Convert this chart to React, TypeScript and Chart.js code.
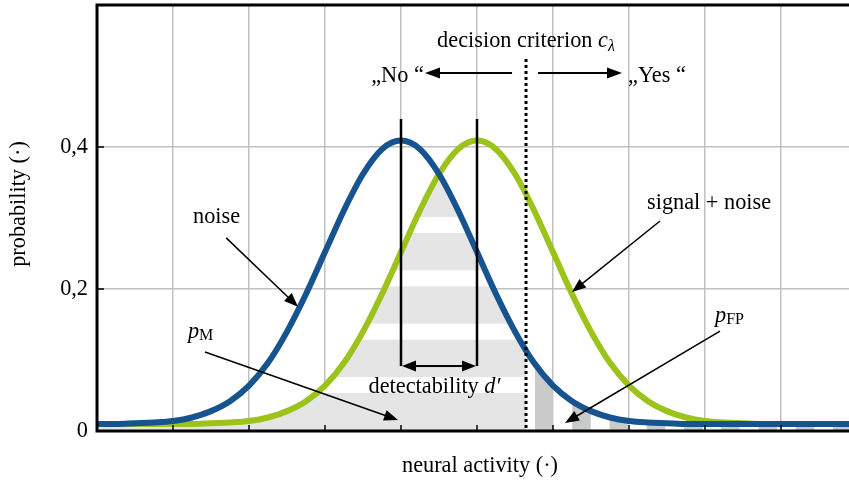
import React, { useEffect, useRef } from 'react';
import { Chart, registerables } from 'chart.js';

Chart.register(...registerables);

// ---------- data ----------
const activity = [
  0, 0.25, 0.5, 0.75, 1, 1.25, 1.5, 1.75, 2, 2.25, 2.5, 2.75, 3, 3.25, 3.5, 3.75,
  4, 4.25, 4.5, 4.75, 5, 5.25, 5.5, 5.75, 6, 6.25, 6.5, 6.75, 7, 7.25, 7.5, 7.75,
  8, 8.25, 8.5, 8.75, 9, 9.25, 9.5, 9.75, 10,
];
const noise = [
  0.010, 0.010, 0.011, 0.012, 0.014, 0.019, 0.028, 0.042, 0.064, 0.096, 0.140, 0.193,
  0.252, 0.311, 0.362, 0.397, 0.409, 0.397, 0.362, 0.311, 0.252, 0.193, 0.140, 0.096,
  0.064, 0.042, 0.028, 0.019, 0.014, 0.012, 0.011, 0.010, 0.010, 0.010, 0.010, 0.010,
  0.010, 0.010, 0.010, 0.010, 0.010,
];
const signal = [
  0.010, 0.010, 0.010, 0.010, 0.010, 0.010, 0.011, 0.012, 0.014, 0.019, 0.028, 0.042,
  0.064, 0.096, 0.140, 0.193, 0.252, 0.311, 0.362, 0.397, 0.409, 0.397, 0.362, 0.311,
  0.252, 0.193, 0.140, 0.096, 0.064, 0.042, 0.028, 0.019, 0.014, 0.012, 0.011, 0.010,
  0.010, 0.010, 0.010, 0.010, 0.010,
];
// overlap area left of the criterion (p_M, horizontal stripes)
const missX = [
  0, 0.25, 0.5, 0.75, 1, 1.25, 1.5, 1.75, 2, 2.25, 2.5, 2.75, 3, 3.25, 3.5, 3.75, 4, 4.25,
  4.4, 4.5, 4.6, 4.75, 5, 5.25, 5.5, 5.645,
];
const missY = [
  0.010, 0.010, 0.010, 0.010, 0.010, 0.010, 0.011, 0.012, 0.014, 0.019, 0.028, 0.042,
  0.064, 0.096, 0.140, 0.193, 0.252, 0.311, 0.343, 0.362, 0.343, 0.311, 0.252, 0.193,
  0.140, 0.114,
];
// noise area right of the criterion (p_FP, vertical stripes)
const falseAlarmX = [
  5.645, 5.75, 6, 6.25, 6.5, 6.75, 7, 7.25, 7.5, 7.75, 8, 8.25, 8.5, 8.75, 9, 9.25, 9.5, 9.75, 10,
];
const falseAlarmY = [
  0.114, 0.096, 0.064, 0.042, 0.028, 0.019, 0.014, 0.012, 0.011, 0.010, 0.010, 0.010,
  0.010, 0.010, 0.010, 0.010, 0.010, 0.010, 0.010,
];
const xTickValues = [0, 1, 2, 3, 4, 5, 6, 7, 8, 9, 10];
const yTickValues = [0, 0.2, 0.4, 0.6];
const yTickLabels = ['0', '0,2', '0,4', ''];
const criterion = 5.645;
const means = [4, 5];

// ---------- style ----------
const BLUE = '#17548f';
const GREEN = '#9bc31a';
const GRID = '#c0c0c0';
const SERIF = "'Liberation Serif', 'DejaVu Serif', serif";
const FS = 22.3;
const F = (size: number, style = '') => `${style} ${size}px ${SERIF}`.trim();

function makeHorizontalStripes(): CanvasPattern | string {
  const c = document.createElement('canvas');
  c.width = 4;
  c.height = 160;
  const g = c.getContext('2d');
  if (!g) return '#e6e6e6';
  g.fillStyle = '#e5e5e5';
  g.fillRect(0, 0, 4, 160);
  g.fillStyle = '#ffffff';
  const period = 160 / 3;
  for (let k = 0; k < 3; k++) {
    g.fillRect(0, 3.67 + period * k, 4, 16);
  }
  const p = g.createPattern(c, 'repeat');
  return p || '#e6e6e6';
}

function makeVerticalStripes(): CanvasPattern | string {
  const c = document.createElement('canvas');
  c.width = 149;
  c.height = 4;
  const g = c.getContext('2d');
  if (!g) return '#c8c8c8';
  g.fillStyle = '#ffffff';
  g.fillRect(0, 0, 149, 4);
  g.fillStyle = '#c9caca';
  const period = 149 / 4;
  for (let k = 0; k < 4; k++) {
    g.fillRect(13.5 + period * k, 0, 18.5, 4);
  }
  const p = g.createPattern(c, 'repeat');
  return p || '#c8c8c8';
}

type Run = { t: string; font: string; dy?: number };

function drawRuns(ctx: CanvasRenderingContext2D, parts: Run[], x: number, y: number, align: 'left' | 'center' | 'right') {
  const widths: number[] = [];
  let total = 0;
  parts.forEach((p) => {
    ctx.font = p.font;
    const w = ctx.measureText(p.t).width;
    widths.push(w);
    total += w;
  });
  let cx = align === 'center' ? x - total / 2 : align === 'right' ? x - total : x;
  ctx.textAlign = 'left';
  ctx.textBaseline = 'alphabetic';
  parts.forEach((p, i) => {
    ctx.font = p.font;
    ctx.fillText(p.t, cx, y + (p.dy || 0));
    cx += widths[i];
  });
}

function line(ctx: CanvasRenderingContext2D, x1: number, y1: number, x2: number, y2: number) {
  ctx.beginPath();
  ctx.moveTo(x1, y1);
  ctx.lineTo(x2, y2);
  ctx.stroke();
}

function arrow(ctx: CanvasRenderingContext2D, x1: number, y1: number, x2: number, y2: number, w = 1.5, head = 14, hw = 5.5) {
  const a = Math.atan2(y2 - y1, x2 - x1);
  const c = Math.cos(a), s = Math.sin(a);
  ctx.lineWidth = w;
  line(ctx, x1, y1, x2 - head * c * 0.8, y2 - head * s * 0.8);
  ctx.beginPath();
  ctx.moveTo(x2, y2);
  ctx.lineTo(x2 - head * c + hw * s, y2 - head * s - hw * c);
  ctx.lineTo(x2 - head * c - hw * s, y2 - head * s + hw * c);
  ctx.closePath();
  ctx.fill();
}

const annotate = {
  id: 'annotate',
  afterDraw(chart: any) {
    const ctx: CanvasRenderingContext2D = chart.ctx;
    const ca = chart.chartArea;
    const xs = chart.scales.x;
    const ys = chart.scales.y;
    const X = (v: number) => xs.getPixelForValue(v);
    const Y = (v: number) => ys.getPixelForValue(v);
    ctx.save();
    ctx.strokeStyle = '#000';
    ctx.fillStyle = '#000';

    // inward ticks
    ctx.lineWidth = 1.5;
    xTickValues.forEach((v) => {
      if (v > 0 && v < 10) line(ctx, X(v), ca.bottom, X(v), ca.bottom - 6);
    });
    yTickValues.forEach((v) => {
      if (v > 0 && v < 0.6) line(ctx, ca.left, Y(v), ca.left + 7, Y(v));
    });

    // decision criterion (dotted)
    ctx.lineWidth = 3;
    ctx.setLineDash([3, 3]);
    line(ctx, X(criterion), Y(0.524), X(criterion), ca.bottom);
    ctx.setLineDash([]);

    // means and d'
    ctx.lineWidth = 2.5;
    means.forEach((m) => line(ctx, X(m), Y(0.4394), X(m), Y(0.0915)));
    arrow(ctx, X(4.5), Y(0.0915), X(means[0]) + 1, Y(0.0915), 2, 14, 5.5);
    arrow(ctx, X(4.5), Y(0.0915), X(means[1]) - 1, Y(0.0915), 2, 14, 5.5);

    // No / Yes arrows
    arrow(ctx, X(5.461), Y(0.5042), X(4.316), Y(0.5042), 2, 15, 5.5);
    arrow(ctx, X(5.803), Y(0.5042), X(6.908), Y(0.5042), 2, 15, 5.5);

    // pointer arrows
    arrow(ctx, X(1.70), Y(0.272), X(2.645), Y(0.175), 1.5, 14, 5.5);
    arrow(ctx, X(7.408), Y(0.2958), X(6.25), Y(0.1958), 1.5, 14, 5.5);
    arrow(ctx, X(1.421), Y(0.1113), X(3.961), Y(0.0155), 1.5, 14, 5.5);
    arrow(ctx, X(8.197), Y(0.1408), X(6.158), Y(0.0113), 1.5, 14, 5.5);

    // texts
    const N = F(FS);
    const I = F(FS, 'italic');
    const SUB = F(16);
    drawRuns(ctx, [{ t: 'decision criterion ', font: N }, { t: 'c', font: I }, { t: 'λ', font: F(16, 'italic'), dy: 4 }], X(criterion), Y(0.5408), 'center');
    drawRuns(ctx, [{ t: '„No “', font: N }], X(4.30), Y(0.4915), 'right');
    drawRuns(ctx, [{ t: '„Yes “', font: N }], X(6.987), Y(0.4915), 'left');
    drawRuns(ctx, [{ t: 'noise', font: N }], X(1.263), Y(0.293), 'left');
    drawRuns(ctx, [{ t: 'signal + noise', font: N }], X(7.237), Y(0.3127), 'left');
    drawRuns(ctx, [{ t: 'p', font: I }, { t: 'M', font: SUB, dy: 2 }], X(1.197), Y(0.131), 'left');
    drawRuns(ctx, [{ t: 'p', font: I }, { t: 'FP', font: SUB, dy: 2 }], X(8.132), Y(0.1535), 'left');
    drawRuns(ctx, [{ t: 'detectability ', font: N }, { t: 'd′', font: I }], X(4.44), Y(0.0535), 'center');

    // axis titles
    drawRuns(ctx, [{ t: 'neural activity (·)', font: N }], (ca.left + ca.right) / 2 + 3, ca.bottom + 41, 'center');
    ctx.save();
    ctx.translate(ca.left - 78, (ca.top + ca.bottom) / 2 - 14);
    ctx.rotate(-Math.PI / 2);
    ctx.font = N;
    ctx.textAlign = 'center';
    ctx.textBaseline = 'middle';
    ctx.fillText('probability (·)', 0, 0);
    ctx.restore();

    // frame
    ctx.lineWidth = 3;
    ctx.strokeRect(ca.left, ca.top, ca.right - ca.left, ca.bottom - ca.top);
    ctx.restore();
  },
};

export default function App() {
  const ref = useRef<HTMLCanvasElement | null>(null);
  useEffect(() => {
    if (!ref.current) return;
    const hStripes = makeHorizontalStripes();
    const vStripes = makeVerticalStripes();
    const chart = new Chart(ref.current, {
      type: 'line',
      data: {
        datasets: [
          {
            label: 'noise',
            data: activity.map((x, i) => ({ x, y: noise[i] })),
            borderColor: BLUE,
            borderWidth: 6,
            pointRadius: 0,
            fill: false,
            cubicInterpolationMode: 'monotone',
          },
          {
            label: 'signal + noise',
            data: activity.map((x, i) => ({ x, y: signal[i] })),
            borderColor: GREEN,
            borderWidth: 6,
            pointRadius: 0,
            fill: false,
            cubicInterpolationMode: 'monotone',
          },
          {
            label: 'pFP',
            data: falseAlarmX.map((x, i) => ({ x, y: falseAlarmY[i] })),
            borderColor: 'rgba(0,0,0,0)',
            borderWidth: 0,
            pointRadius: 0,
            backgroundColor: vStripes as any,
            fill: 'origin',
            tension: 0,
          },
          {
            label: 'pM',
            data: missX.map((x, i) => ({ x, y: missY[i] })),
            borderColor: 'rgba(0,0,0,0)',
            borderWidth: 0,
            pointRadius: 0,
            backgroundColor: hStripes as any,
            fill: 'origin',
            tension: 0,
          },
        ],
      },
      options: {
        responsive: false,
        animation: false,
        layout: { padding: { top: 5, left: 0, right: 0, bottom: 0 } },
        plugins: { legend: { display: false }, tooltip: { enabled: false } },
        scales: {
          x: {
            type: 'linear',
            min: 0,
            max: 10,
            afterBuildTicks: (s: any) => {
              s.ticks = xTickValues.map((v) => ({ value: v }));
            },
            ticks: { display: false },
            grid: {
              color: (c: any) => (c.tick && (c.tick.value === 0 || c.tick.value === 10) ? 'rgba(0,0,0,0)' : GRID),
              lineWidth: 1.5,
              drawTicks: false,
            },
            border: { display: false },
            afterFit: (s: any) => {
              s.height = 51;
              s.paddingLeft = 0;
              s.paddingRight = 0;
            },
          },
          y: {
            type: 'linear',
            min: 0,
            max: 0.6,
            afterBuildTicks: (s: any) => {
              s.ticks = yTickValues.map((v) => ({ value: v }));
            },
            ticks: {
              color: '#000',
              font: { family: SERIF, size: FS },
              padding: 9,
              callback: (v: any) => {
                const i = yTickValues.findIndex((t) => Math.abs(t - Number(v)) < 1e-9);
                return i >= 0 ? yTickLabels[i] : '';
              },
            },
            grid: {
              color: (c: any) => (c.tick && (c.tick.value === 0 || Math.abs(c.tick.value - 0.6) < 1e-9) ? 'rgba(0,0,0,0)' : GRID),
              lineWidth: 1.5,
              drawTicks: false,
            },
            border: { display: false },
            afterFit: (s: any) => {
              s.width = 97;
              s.paddingTop = 0;
              s.paddingBottom = 0;
            },
          },
        },
      } as any,
      plugins: [annotate],
    });
    return () => chart.destroy();
  }, []);

  return (
    <div style={{ position: 'fixed', left: 0, top: 0, width: 849, height: 482, overflow: 'hidden', background: '#fff' }}>
      <canvas ref={ref} width={857} height={482} style={{ display: 'block' }} />
    </div>
  );
}
